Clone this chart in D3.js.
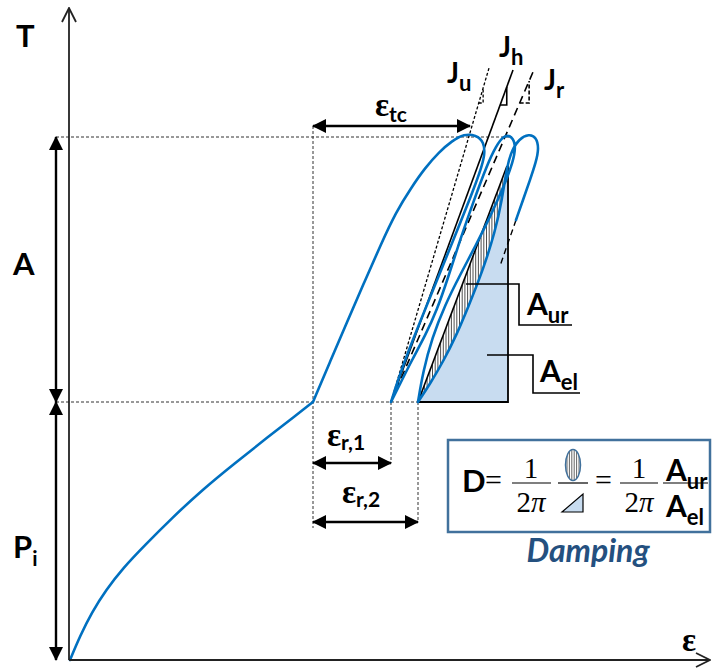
<!DOCTYPE html>
<html>
<head>
<meta charset="utf-8">
<script src="https://cdn.jsdelivr.net/npm/d3@7"></script>
<style>
  body { margin: 0; background: #fff; }
  svg { display: block; }
</style>
</head>
<body>
<div id="chart"></div>
<script>
// Curve control points as [strain, stress] in drawing units (0,0 = origin of the ε/T axes)
const firstLoading = [[1,0],[11,24],[23,48],[37,70],[54,92],[76,115],[103,142],[133,170],[166,197],[199,223],[226,244],[244,258]];
// first loading to the peak, then first unloading
const cycle1 = [[244,258],[261,298],[278,338],[295,377],[312,416],[327,448],[342,472],[356,492],[370,508],[383,519],[395,526],[407,525],[415,518],[416,505],[411,488],[402,464],[390,434],[377,402],[364,370],[351,338],[339,308],[329,280],[322,258]];
// second reloading and unloading
const cycle2 = [[322,258],[331,276],[343,300],[356,324],[368,350],[379,382],[391,420],[405,460],[418,495],[427,514],[435,525],[443,524],[447,514],[444,498],[435,474],[422,445],[407,415],[391,385],[376,355],[363,322],[354,288],[349,258]];
// third reloading and (partial) unloading
const cycle3 = [[349,258],[361,276],[375,300],[387,324],[398,350],[414,390],[426,428],[433,460],[438,494],[443,510],[450,521],[460,526],[467,523],[470,512],[467,498],[461,480],[454,460],[447,440]];
const unloading3Extra = [[447,440],[431,394]];

// Stress levels: P_i and P_i + A
const stressLevels = [258, 523];
// Strains: end of first loading, ε_r,1, ε_r,2, end of ε_tc
const keyStrains = [244, 322, 349, 401];
const elasticEdgeStrain = 439;

// Modulus lines J_u, J_h, J_r, all from the first residual point
const modulusNames = ["u", "h", "r"];
const modulusEnds = [[420,592],[444,590],[464,588]];
const modulusTri = [[557,15],[555,18],[557,22]]; // [bottom stress, height]

const width = 712, height = 668;
const x = d3.scaleLinear().domain([0, 640]).range([69, 709]);
const y = d3.scaleLinear().domain([0, 650]).range([660, 10]);

const blue = "#0070c0";
const fillBlue = "#c8dcf0";
const sans = "Lato, 'Open Sans', sans-serif";
const serif = "'Liberation Serif', 'DejaVu Serif', serif";

const svg = d3.select("#chart").append("svg")
  .attr("width", width).attr("height", height)
  .attr("viewBox", `0 0 ${width} ${height}`);

const defs = svg.append("defs");
defs.append("marker")
  .attr("id", "head").attr("viewBox", "0 0 14 14")
  .attr("refX", 13).attr("refY", 7)
  .attr("markerWidth", 14).attr("markerHeight", 14)
  .attr("markerUnits", "userSpaceOnUse").attr("orient", "auto-start-reverse")
  .append("path").attr("d", "M0,0L14,7L0,14Z").attr("fill", "#000");
defs.append("marker")
  .attr("id", "open").attr("viewBox", "0 0 16 16")
  .attr("refX", 15).attr("refY", 8)
  .attr("markerWidth", 16).attr("markerHeight", 16)
  .attr("markerUnits", "userSpaceOnUse").attr("orient", "auto")
  .append("path").attr("d", "M1,1L15,8L1,15")
  .attr("fill", "none").attr("stroke", "#222").attr("stroke-width", 1.8);

const smooth = d3.line()
  .x(d => x(d[0]))
  .y(d => y(d[1]))
  .curve(d3.curveBasis);
const straight = d3.line().x(d => x(d[0])).y(d => y(d[1]));

const [Pi, Peak] = stressLevels;
const [eKink, eR1, eR2, eTc] = keyStrains;

// whole stress-strain path; cusps get their point three times
const kink = firstLoading[firstLoading.length - 1];
const r1 = cycle1[cycle1.length - 1];
const r2 = cycle2[cycle2.length - 1];
const chain = [].concat(firstLoading, [kink], cycle1, [r1], cycle2, [r2], cycle3);

// Dashed guides
const guides = [
  [[-13, Peak], [443, Peak]],
  [[-13, Pi], [eR2, Pi]],
  [[eKink, 534], [eKink, 132]],
  [[eR1, Pi], [eR1, 197]],
  [[eR2, Pi], [eR2, 138]]
];
svg.append("g").selectAll("line").data(guides).join("line")
  .attr("x1", d => x(d[0][0])).attr("y1", d => y(d[0][1]))
  .attr("x2", d => x(d[1][0])).attr("y2", d => y(d[1][1]))
  .attr("stroke", "#333").attr("stroke-width", 1)
  .attr("stroke-dasharray", "3,2");

// Elastic triangle (A_el) with the hysteresis part hatched (A_ur)
const fillPart = [r2, r2].concat(cycle3.slice(0, 9));
const tip = fillPart[fillPart.length - 1];
svg.append("path")
  .attr("d", smooth(fillPart) + `L${x(elasticEdgeStrain)},${y(Pi)}Z`)
  .attr("fill", fillBlue);

defs.append("clipPath").attr("id", "hatch-clip")
  .append("path").attr("d", smooth(fillPart) + "Z");
svg.append("g").attr("clip-path", "url(#hatch-clip)")
  .selectAll("line").data(d3.range(eR2 + 1, elasticEdgeStrain, 2.7)).join("line")
  .attr("x1", d => x(d)).attr("x2", d => x(d))
  .attr("y1", y(Pi)).attr("y2", y(Peak))
  .attr("stroke", "#222").attr("stroke-width", 0.8);

svg.append("path").attr("d", straight([r2, tip]))
  .attr("stroke", "#000").attr("stroke-width", 1.6);
svg.append("path")
  .attr("d", straight([r2, [elasticEdgeStrain, Pi], [elasticEdgeStrain, tip[1]]]))
  .attr("fill", "none").attr("stroke", "#000").attr("stroke-width", 1.8);

// Modulus lines with their slope triangles
const modStyles = [
  { dash: "3,2", w: 1.3 },
  { dash: null, w: 1.6 },
  { dash: "8,5", w: 1.6 }
];
modulusEnds.forEach((end, i) => {
  const st = modStyles[i];
  svg.append("path").attr("d", straight([r1, end]))
    .attr("stroke", "#000").attr("stroke-width", st.w)
    .attr("stroke-dasharray", st.dash);
  const slope = (end[0] - eR1) / (end[1] - Pi);
  const [tb, th] = modulusTri[i];
  const xb = eR1 + (tb - Pi) * slope;
  const xt = eR1 + (tb + th - Pi) * slope;
  svg.append("path").attr("d", straight([[xb, tb], [xt, tb], [xt, tb + th]]))
    .attr("fill", "none").attr("stroke", "#000").attr("stroke-width", st.w)
    .attr("stroke-dasharray", st.dash === "8,5" ? "4,2" : st.dash);
});

// Dashed extension of the last unloading branch
svg.append("path").attr("d", straight(unloading3Extra))
  .attr("fill", "none").attr("stroke", "#000").attr("stroke-width", 1.4)
  .attr("stroke-dasharray", "6,4");

// Blue stress-strain curve
svg.append("path").attr("d", smooth(chain))
  .attr("fill", "none").attr("stroke", blue)
  .attr("stroke-width", 2.6).attr("stroke-linecap", "round")
  .attr("stroke-linejoin", "round");

// Axes
svg.append("line")
  .attr("x1", x(0)).attr("y1", y(0)).attr("x2", x(0)).attr("y2", y(652))
  .attr("stroke", "#222").attr("stroke-width", 1.8).attr("marker-end", "url(#open)");
svg.append("line")
  .attr("x1", x(0)).attr("y1", y(0)).attr("x2", x(641)).attr("y2", y(0))
  .attr("stroke", "#222").attr("stroke-width", 1.8).attr("marker-end", "url(#open)");

// Double arrows
function dblArrow(a, b) {
  svg.append("line")
    .attr("x1", x(a[0])).attr("y1", y(a[1])).attr("x2", x(b[0])).attr("y2", y(b[1]))
    .attr("stroke", "#000").attr("stroke-width", 2.4)
    .attr("marker-start", "url(#head)").attr("marker-end", "url(#head)");
}
dblArrow([-13, Peak], [-13, Pi]);
dblArrow([-13, Pi], [-13, 0]);
dblArrow([eKink, 534], [eTc, 534]);
dblArrow([eKink, 197], [eR1, 197]);
dblArrow([eKink, 138], [eR2, 138]);

// Label leaders
const leaders = [
  [[397, 376], [450, 376], [450, 335], [503, 335]],
  [[418, 305], [464, 305], [464, 267], [511, 267]]
];
svg.append("g").selectAll("path").data(leaders).join("path")
  .attr("d", straight)
  .attr("fill", "none").attr("stroke", "#000").attr("stroke-width", 1.6);

// Text helper: main glyph with a bold sans subscript
function label(parent, px, py, main, sub, size, subSize, font, subDy) {
  const t = parent.append("text").attr("x", px).attr("y", py)
    .attr("font-family", font || sans).attr("font-weight", "bold")
    .attr("font-size", size).attr("fill", "#000").text(main);
  if (sub) {
    t.append("tspan").attr("dy", subDy != null ? subDy : subSize * 0.38)
      .attr("font-family", sans).attr("font-weight", "bold")
      .attr("font-size", subSize).text(sub);
  }
  return t;
}

label(svg, 16, 47, "T", null, 31);
label(svg, 13, 275, "A", null, 31);
label(svg, 13, 558, "P", "i", 31, 21);
label(svg, 682, 651, "ε", null, 33, null, serif);

label(svg, 447, 83, "J", "u", 28, 22);
label(svg, 499, 57, "J", "h", 28, 22);
label(svg, 544, 90, "J", "r", 28, 22);

label(svg, 375, 116, "ε", "tc", 33, 21, serif, 6);
label(svg, 327, 446, "ε", "r,1", 33, 21, serif, 4);
label(svg, 342, 503, "ε", "r,2", 33, 21, serif, 4);

label(svg, 527, 315, "A", "ur", 30, 22);
label(svg, 540, 382, "A", "el", 30, 22);

// Damping formula box
const box = svg.append("g");
box.append("rect")
  .attr("x", 448).attr("y", 440).attr("width", 262).attr("height", 92)
  .attr("fill", "#fff").attr("stroke", "#41719c").attr("stroke-width", 2.5);

label(box, 462, 492, "D", null, 31);
box.append("text").attr("x", 485).attr("y", 490).attr("font-family", serif)
  .attr("font-size", 30).text("=");
box.append("text").attr("x", 595).attr("y", 490).attr("font-family", serif)
  .attr("font-size", 30).text("=");

function frac(cx, x1, x2) {
  box.append("text").attr("x", cx).attr("y", 478).attr("text-anchor", "middle")
    .attr("font-family", serif).attr("font-size", 29).text("1");
  box.append("line").attr("x1", x1).attr("x2", x2).attr("y1", 483).attr("y2", 483)
    .attr("stroke", "#000").attr("stroke-width", 1.2);
  const t = box.append("text").attr("x", cx).attr("y", 512).attr("text-anchor", "middle")
    .attr("font-family", serif).attr("font-size", 29).text("2");
  t.append("tspan").attr("font-style", "italic").text("π");
}
frac(531, 512, 551);
frac(639, 620, 658);

// ellipse over triangle symbol
defs.append("clipPath").attr("id", "ell-clip")
  .append("ellipse").attr("cx", 573).attr("cy", 465).attr("rx", 7.5).attr("ry", 15.5);
box.append("g").attr("clip-path", "url(#ell-clip)")
  .selectAll("line").data(d3.range(567, 580, 2.4)).join("line")
  .attr("x1", d => d).attr("x2", d => d).attr("y1", 448).attr("y2", 482)
  .attr("stroke", "#222").attr("stroke-width", 0.7);
box.append("ellipse").attr("cx", 573).attr("cy", 465).attr("rx", 7.5).attr("ry", 15.5)
  .attr("fill", "none").attr("stroke", "#41719c").attr("stroke-width", 1.5);
box.append("line").attr("x1", 558).attr("x2", 588).attr("y1", 483).attr("y2", 483)
  .attr("stroke", "#000").attr("stroke-width", 1.2);
box.append("path").attr("d", "M562,512L583,512L583,494Z")
  .attr("fill", fillBlue).attr("stroke", "#000").attr("stroke-width", 1.2);

label(box, 666, 481, "A", "ur", 30, 22);
box.append("line").attr("x1", 663).attr("x2", 708).attr("y1", 483).attr("y2", 483)
  .attr("stroke", "#000").attr("stroke-width", 1.2);
label(box, 666, 517, "A", "el", 30, 22);

svg.append("text").attr("x", 588).attr("y", 562).attr("text-anchor", "middle")
  .attr("font-family", sans).attr("font-weight", "bold").attr("font-style", "italic")
  .attr("font-size", 32).attr("fill", "#24507f").text("Damping");
</script>
</body>
</html>
